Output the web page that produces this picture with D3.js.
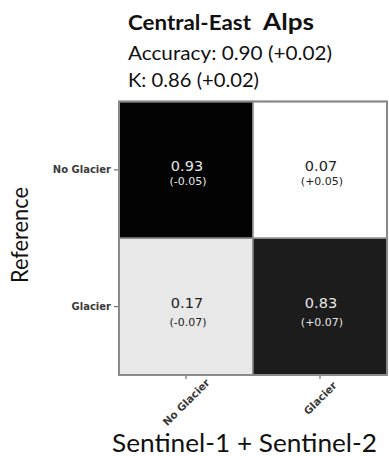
<!DOCTYPE html>
<html>
<head>
<meta charset="utf-8">
<script src="https://cdn.jsdelivr.net/npm/d3@7"></script>
<style>
  html, body { margin: 0; padding: 0; background: #fff; }
  svg { display: block; }
</style>
</head>
<body>
<svg id="chart" width="389" height="456"></svg>
<script>
// ---- data ----
const titleMain = "Central-East";
const titleRegion = "Alps";
const accuracyLine = "Accuracy: 0.90 (+0.02)";
const kappaLine = "K: 0.86 (+0.02)";
const predictedLabels = ["No Glacier", "Glacier"];   // columns (x)
const referenceLabels = ["No Glacier", "Glacier"];   // rows (y)
const matrixValues = [[0.93, 0.07], [0.17, 0.83]];
const matrixChanges = ["(-0.05)", "(+0.05)", "(-0.07)", "(+0.07)"];
const xAxisTitle = "Sentinel-1 + Sentinel-2";
const yAxisTitle = "Reference";

// ---- layout ----
const svg = d3.select("#chart");
const mLeft = 119, mRight = 387, mTop = 101.5, mBottom = 375;
const x = d3.scaleBand().domain(predictedLabels).range([mLeft, mRight]);
const y = d3.scaleBand().domain(referenceLabels).range([mTop, mBottom]);
const color = d3.scaleLinear()
  .domain([0.07, 0.17, 0.83, 0.93])
  .range(["#ffffff", "#e8e8e8", "#1c1c1c", "#030303"]);

const cells = [];
matrixValues.forEach((row, i) => row.forEach((v, j) => {
  cells.push({ row: referenceLabels[i], col: predictedLabels[j], ri: i, v, change: matrixChanges[i * 2 + j] });
}));

svg.append("g").selectAll("rect").data(cells).join("rect")
  .attr("x", d => x(d.col)).attr("y", d => y(d.row))
  .attr("width", x.bandwidth()).attr("height", y.bandwidth())
  .attr("fill", d => color(d.v))
  .attr("stroke", "#8a8a8a").attr("stroke-width", 1.5);

svg.append("rect")
  .attr("x", mLeft).attr("y", mTop).attr("width", mRight - mLeft).attr("height", mBottom - mTop)
  .attr("fill", "none").attr("stroke", "#8a8a8a").attr("stroke-width", 2);

const mainOff = [1.5, 1.5], subOff = [15.5, 19.5];
const txt = svg.append("g").attr("font-family", "DejaVu Sans").attr("text-anchor", "middle");
txt.selectAll("text.v").data(cells).join("text").attr("class", "v")
  .attr("x", d => x(d.col) + x.bandwidth() / 2 + 1)
  .attr("y", d => y(d.row) + y.bandwidth() / 2 + mainOff[d.ri])
  .attr("font-size", 14.5)
  .attr("fill", d => d.v > 0.5 ? "#e6e6e6" : "#222")
  .text(d => d.v.toFixed(2));
txt.selectAll("text.c").data(cells).join("text").attr("class", "c")
  .attr("x", d => x(d.col) + x.bandwidth() / 2 + 2)
  .attr("y", d => y(d.row) + y.bandwidth() / 2 + subOff[d.ri])
  .attr("font-size", 11)
  .attr("fill", d => d.v > 0.5 ? "#e6e6e6" : "#222")
  .text(d => d.change);

// axes
const yAxis = svg.append("g").attr("transform", `translate(${mLeft - 1},0)`)
  .call(d3.axisLeft(y).tickSize(4).tickPadding(3));
yAxis.select(".domain").remove();
yAxis.selectAll("line").attr("stroke", "#555");
yAxis.selectAll("text").attr("font-family", "DejaVu Sans").attr("font-weight", "bold")
  .attr("font-size", 10).attr("fill", "#3a3a3a");

const xAxis = svg.append("g").attr("transform", `translate(0,${mBottom + 1})`)
  .call(d3.axisBottom(x).tickSize(3).tickPadding(0));
xAxis.select(".domain").remove();
xAxis.selectAll("line").attr("stroke", "#555");
xAxis.selectAll("text")
  .attr("font-family", "DejaVu Sans").attr("font-weight", "bold")
  .attr("font-size", 10.5).attr("fill", "#3a3a3a")
  .attr("text-anchor", "middle").attr("dy", null).attr("y", 0)
  .attr("transform", (d, i) => `translate(0,${i === 0 ? 26 : 22}) rotate(-45)`)
  .attr("dominant-baseline", "central");

// titles
svg.append("text").attr("x", 128).attr("y", 29.5)
  .attr("font-family", "Lato").attr("font-weight", "bold").attr("font-size", 20)
  .attr("fill", "#111").attr("textLength", 123).attr("lengthAdjust", "spacingAndGlyphs")
  .text(titleMain);
svg.append("text").attr("x", 263).attr("y", 29.5)
  .attr("font-family", "Lato").attr("font-weight", "bold").attr("font-size", 23)
  .attr("fill", "#111").attr("textLength", 51).attr("lengthAdjust", "spacingAndGlyphs")
  .text(titleRegion);
svg.append("text").attr("x", 128).attr("y", 60)
  .attr("font-family", "Lato").attr("font-size", 20).attr("fill", "#111")
  .attr("textLength", 204).attr("lengthAdjust", "spacingAndGlyphs").text(accuracyLine);
svg.append("text").attr("x", 128).attr("y", 87)
  .attr("font-family", "Lato").attr("font-size", 20).attr("fill", "#111")
  .attr("textLength", 131).attr("lengthAdjust", "spacingAndGlyphs").text(kappaLine);

svg.append("text").attr("transform", "translate(28,235) rotate(-90)")
  .attr("text-anchor", "middle").attr("font-family", "Lato").attr("font-size", 23)
  .attr("fill", "#111").attr("textLength", 96).attr("lengthAdjust", "spacingAndGlyphs")
  .text(yAxisTitle);
svg.append("text").attr("x", 112).attr("y", 452)
  .attr("font-family", "Lato").attr("font-size", 25).attr("fill", "#111")
  .attr("textLength", 265).attr("lengthAdjust", "spacingAndGlyphs").text(xAxisTitle);
</script>
</body>
</html>
